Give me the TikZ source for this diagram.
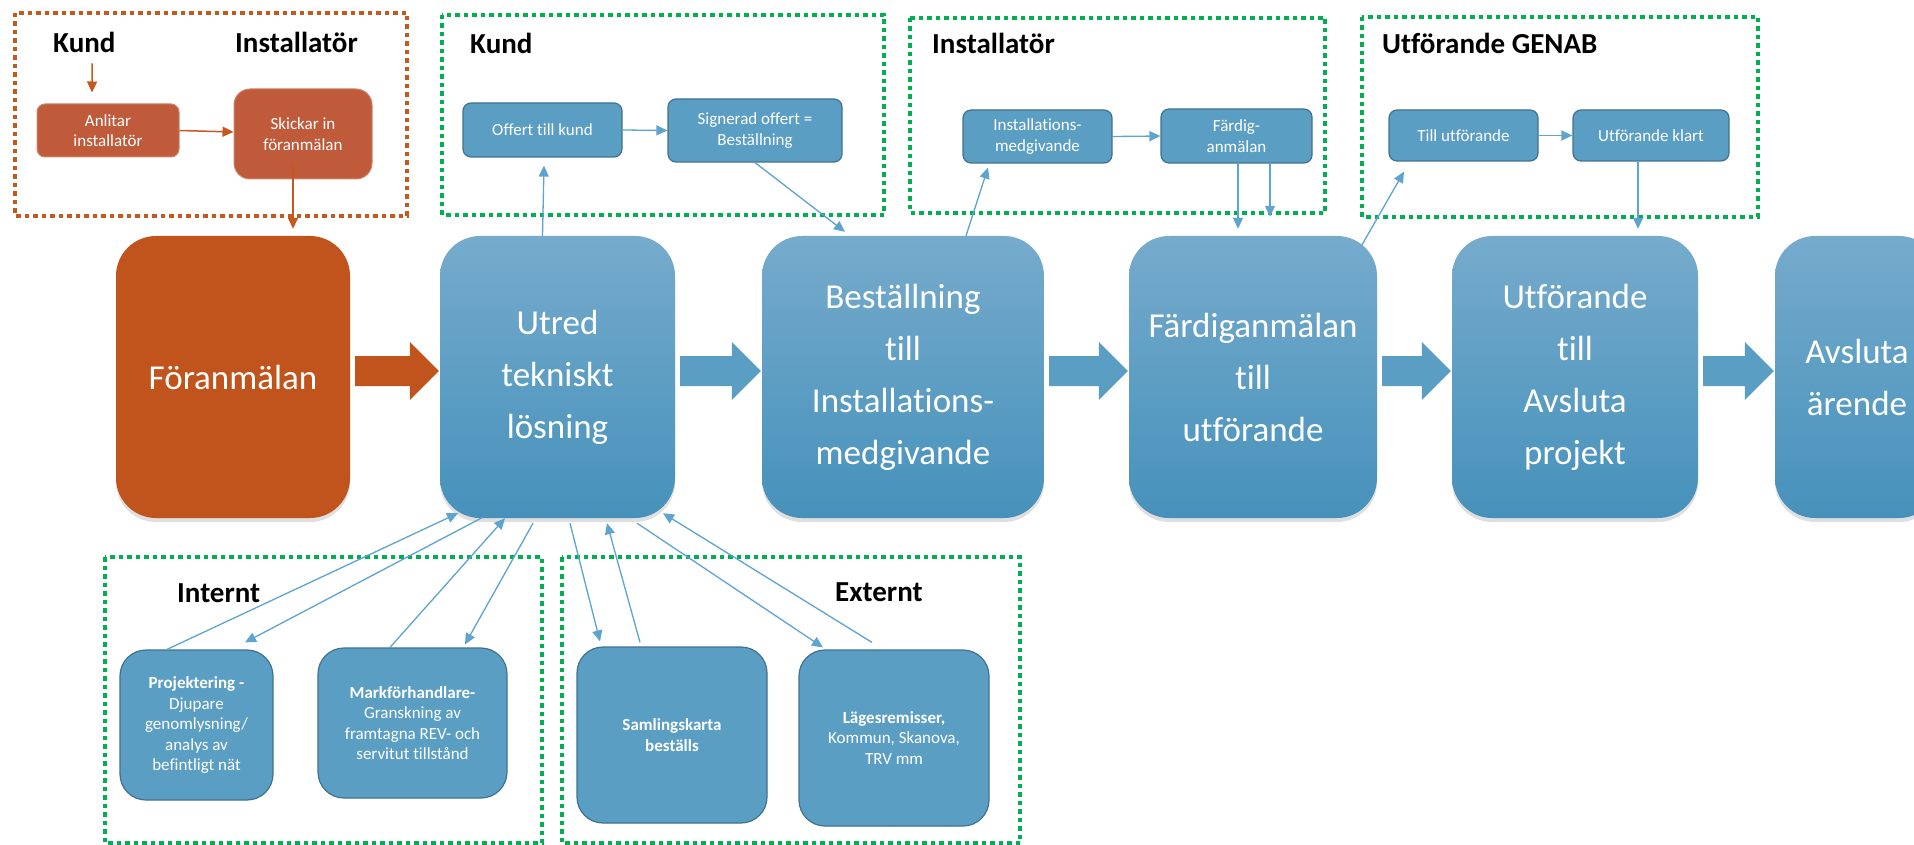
\documentclass[tikz,border=0pt]{standalone}
\usepackage{fontspec}
\setmainfont{Carlito}[Ligatures=NoCommon]
\usetikzlibrary{arrows.meta,calc,shadows}

\definecolor{rustmain}{RGB}{192,84,28}
\definecolor{rustsmall}{RGB}{191,90,58}
\definecolor{rustline}{RGB}{197,88,30}
\definecolor{stagetop}{RGB}{118,171,204}
\definecolor{stagebot}{RGB}{70,145,187}
\definecolor{boxblue}{RGB}{91,158,196}
\definecolor{boxedge}{RGB}{65,113,142}
\definecolor{linkblue}{RGB}{93,164,206}
\definecolor{dotgreen}{RGB}{0,176,80}

\tikzset{
  stage/.style={rounded corners=40pt, minimum width=#1, minimum height=282pt, inner sep=0pt,
    text=white, align=center, font=\fontsize{35}{52}\selectfont,
    drop shadow={shadow xshift=0pt, shadow yshift=-4pt, opacity=.25}},
  bluestage/.style={stage=#1, top color=stagetop, bottom color=stagebot},
  rustbox/.style={rounded corners=8pt, fill=rustsmall, draw=rustsmall!75!white, line width=1pt,
    inner sep=0pt, text=white, align=center, font=\fontsize{17}{20.5}\selectfont},
  bluebox/.style={rounded corners=8pt, fill=boxblue, draw=boxedge, line width=1.2pt,
    inner sep=0pt, text=white, align=center, font=\fontsize{17}{20.5}\selectfont},
  lowbox/.style={bluebox, rounded corners=26pt},
  greenframe/.style={draw=dotgreen, line width=4.5pt, dash pattern=on 4.5pt off 4pt},
  rustframe/.style={draw=rustline, line width=4.5pt, dash pattern=on 4.5pt off 4pt},
  heading/.style={font=\fontsize{29}{34}\selectfont\bfseries, inner sep=0pt},
  link/.style={draw=linkblue, line width=1.3pt, -{Triangle[length=11pt,width=10pt]}},
  rustlink/.style={draw=rustline, line width=1.5pt, -{Triangle[length=11pt,width=10pt]}}
}

% wide filled arrow between two stages
\newcommand{\blockarrow}[3]{%
  \fill[#3] let \p1=(#1.east), \p2=(#2.west) in
    (\x1+5pt,\y1+21pt) -- (\x2-30pt,\y1+21pt) -- (\x2-30pt,\y1+35pt) -- (\x2-1pt,\y1+6pt)
    -- (\x2-30pt,\y1-23pt) -- (\x2-30pt,\y1-9pt) -- (\x1+5pt,\y1-9pt) -- cycle;}

\begin{document}
\begin{tikzpicture}[x=1pt,y=-1pt]
  \fill[white] (0,0) rectangle (1914,845);
  \useasboundingbox (0,0) rectangle (1914,845);
  \clip (0,0) rectangle (1914,845);

  \draw[rustframe] (15,13) rectangle (407,216);
  \draw[greenframe] (442,15) rectangle (884,215);
  \draw[greenframe] (910,18) rectangle (1325,213);
  \draw[greenframe] (1362,17) rectangle (1758,217);
  \draw[greenframe] (105,557) rectangle (542,843);
  \draw[greenframe] (562,557) rectangle (1020,843);

  \node[heading, anchor=base west] (kundo) at (53,53) {Kund};
  \node[heading, anchor=base west] (insto) at (235,53) {Installatör};
  \node[heading, anchor=base west] (kundg) at (470,54) {Kund};
  \node[heading, anchor=base west] (instg) at (932,54) {Installatör};
  \node[heading, anchor=base west] (genab) at (1382,54) {Utförande GENAB};
  \node[heading, anchor=base west] (internt) at (177,602) {Internt};
  \node[heading, anchor=base west] (externt) at (835,601) {Externt};

  \node[rustbox, minimum width=142pt, minimum height=53pt] (anlitar) at (108,130.5) {Anlitar\\installatör};
  \node[rustbox, rounded corners=16pt, minimum width=138pt, minimum height=90pt] (skickar) at (303,134) {Skickar in\\föranmälan};

  \node[bluebox, minimum width=159pt, minimum height=54pt] (offert) at (542.5,130) {Offert till kund};
  \node[bluebox, minimum width=174pt, minimum height=63pt] (signerad) at (755,130.5) {Signerad offert =\\Beställning};
  \node[bluebox, minimum width=149pt, minimum height=53pt] (inst) at (1037.5,136.5) {Installations-\\medgivande};
  \node[bluebox, minimum width=151pt, minimum height=54pt] (fanm) at (1236.5,136) {Färdig-\\anmälan};
  \node[bluebox, minimum width=149pt, minimum height=51pt] (tillutf) at (1463.5,135.5) {Till utförande};
  \node[bluebox, minimum width=156pt, minimum height=51pt] (klart) at (1651,135.5) {Utförande klart};

  \node[stage=234pt, fill=rustmain] (foran) at (233,377) {Föranmälan};
  \node[bluestage=235pt] (utred) at (557.5,377) {Utred\\tekniskt\\lösning};
  \node[bluestage=282pt] (best) at (903,377) {Beställning\\till\\Installations-\\medgivande};
  \node[bluestage=248pt] (fardig) at (1253,377) {Färdiganmälan\\till\\utförande};
  \node[bluestage=246pt] (utf) at (1575,377) {Utförande\\till\\Avsluta\\projekt};
  \node[bluestage=164pt] (avsluta) at (1857,377) {Avsluta\\ärende};

  \blockarrow{foran}{utred}{rustmain}
  \blockarrow{utred}{best}{boxblue}
  \blockarrow{best}{fardig}{boxblue}
  \blockarrow{fardig}{utf}{boxblue}
  \blockarrow{utf}{avsluta}{boxblue}

  \node[lowbox, minimum width=153pt, minimum height=150pt] (proj) at (196.5,725)
    {\textbf{Projektering -}\\Djupare\\genomlysning/\\analys av\\befintligt nät};
  \node[lowbox, minimum width=189pt, minimum height=150pt] (mark) at (412.5,723)
    {\textbf{Markförhandlare-}\\Granskning av\\framtagna REV- och\\servitut tillstånd};
  \node[lowbox, minimum width=190pt, minimum height=176pt] (saml) at (672,735)
    {\textbf{Samlingskarta}\\\textbf{beställs}};
  \node[lowbox, minimum width=190pt, minimum height=176pt] (lage) at (894,738)
    {\textbf{Lägesremisser,}\\Kommun, Skanova,\\TRV mm};

  \draw[rustlink, shorten <=10pt] ([xshift=8pt]kundo.south) -- ([xshift=-16pt,yshift=11pt]anlitar.north);
  \draw[rustlink] (anlitar.east) -- ([yshift=2pt]skickar.west);
  \draw[rustlink] ([xshift=-10pt,yshift=14pt]skickar.south) -- ([xshift=60pt,yshift=7pt]foran.north);

  \draw[link] ([xshift=-15pt]utred.north) -- ([xshift=1.5pt,yshift=-8pt]offert.south);
  \draw[link] (offert.east) -- (signerad.west);
  \draw[link] (signerad.south) -- ([xshift=-58pt,yshift=4pt]best.north);
  \draw[link] ([xshift=63pt]best.north) -- ([xshift=-49.5pt,yshift=-4pt]inst.south);
  \draw[link] (inst.east) -- (fanm.west);
  \draw[link] ([xshift=1.5pt]fanm.south) -- ([xshift=-15pt,yshift=7pt]fardig.north);
  \draw[link] ([xshift=33.5pt]fanm.south) -- ([xshift=17pt,yshift=19pt]fardig.north);
  \draw[link] ([xshift=109pt,yshift=-9pt]fardig.north) -- ([xshift=-59.5pt,yshift=-10pt]tillutf.south);
  \draw[link] (tillutf.east) -- (klart.west);
  \draw[link] ([xshift=-13pt]klart.south) -- ([xshift=63pt,yshift=7pt]utf.north);

  \draw[link] ([xshift=-29.5pt]proj.north) -- ([xshift=-99.5pt,yshift=5pt]utred.south);
  \draw[link] ([xshift=-74.5pt,yshift=1pt]utred.south) -- ([xshift=48.5pt,yshift=7pt]proj.north);
  \draw[link] ([xshift=-22.5pt]mark.north) -- ([xshift=-52.5pt]utred.south);
  \draw[link] ([xshift=-24.5pt,yshift=-5pt]utred.south) -- ([xshift=52.5pt,yshift=3pt]mark.north);
  \draw[link] ([xshift=12.5pt,yshift=-5pt]utred.south) -- ([xshift=-72pt,yshift=5pt]saml.north);
  \draw[link] ([xshift=-32pt,yshift=4pt]saml.north) -- ([xshift=49.5pt,yshift=-5pt]utred.south);
  \draw[link] ([xshift=79.5pt,yshift=-5pt]utred.south) -- ([xshift=-71pt,yshift=2pt]lage.north);
  \draw[link] ([xshift=-22pt,yshift=7pt]lage.north) -- ([xshift=105.5pt,yshift=5pt]utred.south);
\end{tikzpicture}
\end{document}
